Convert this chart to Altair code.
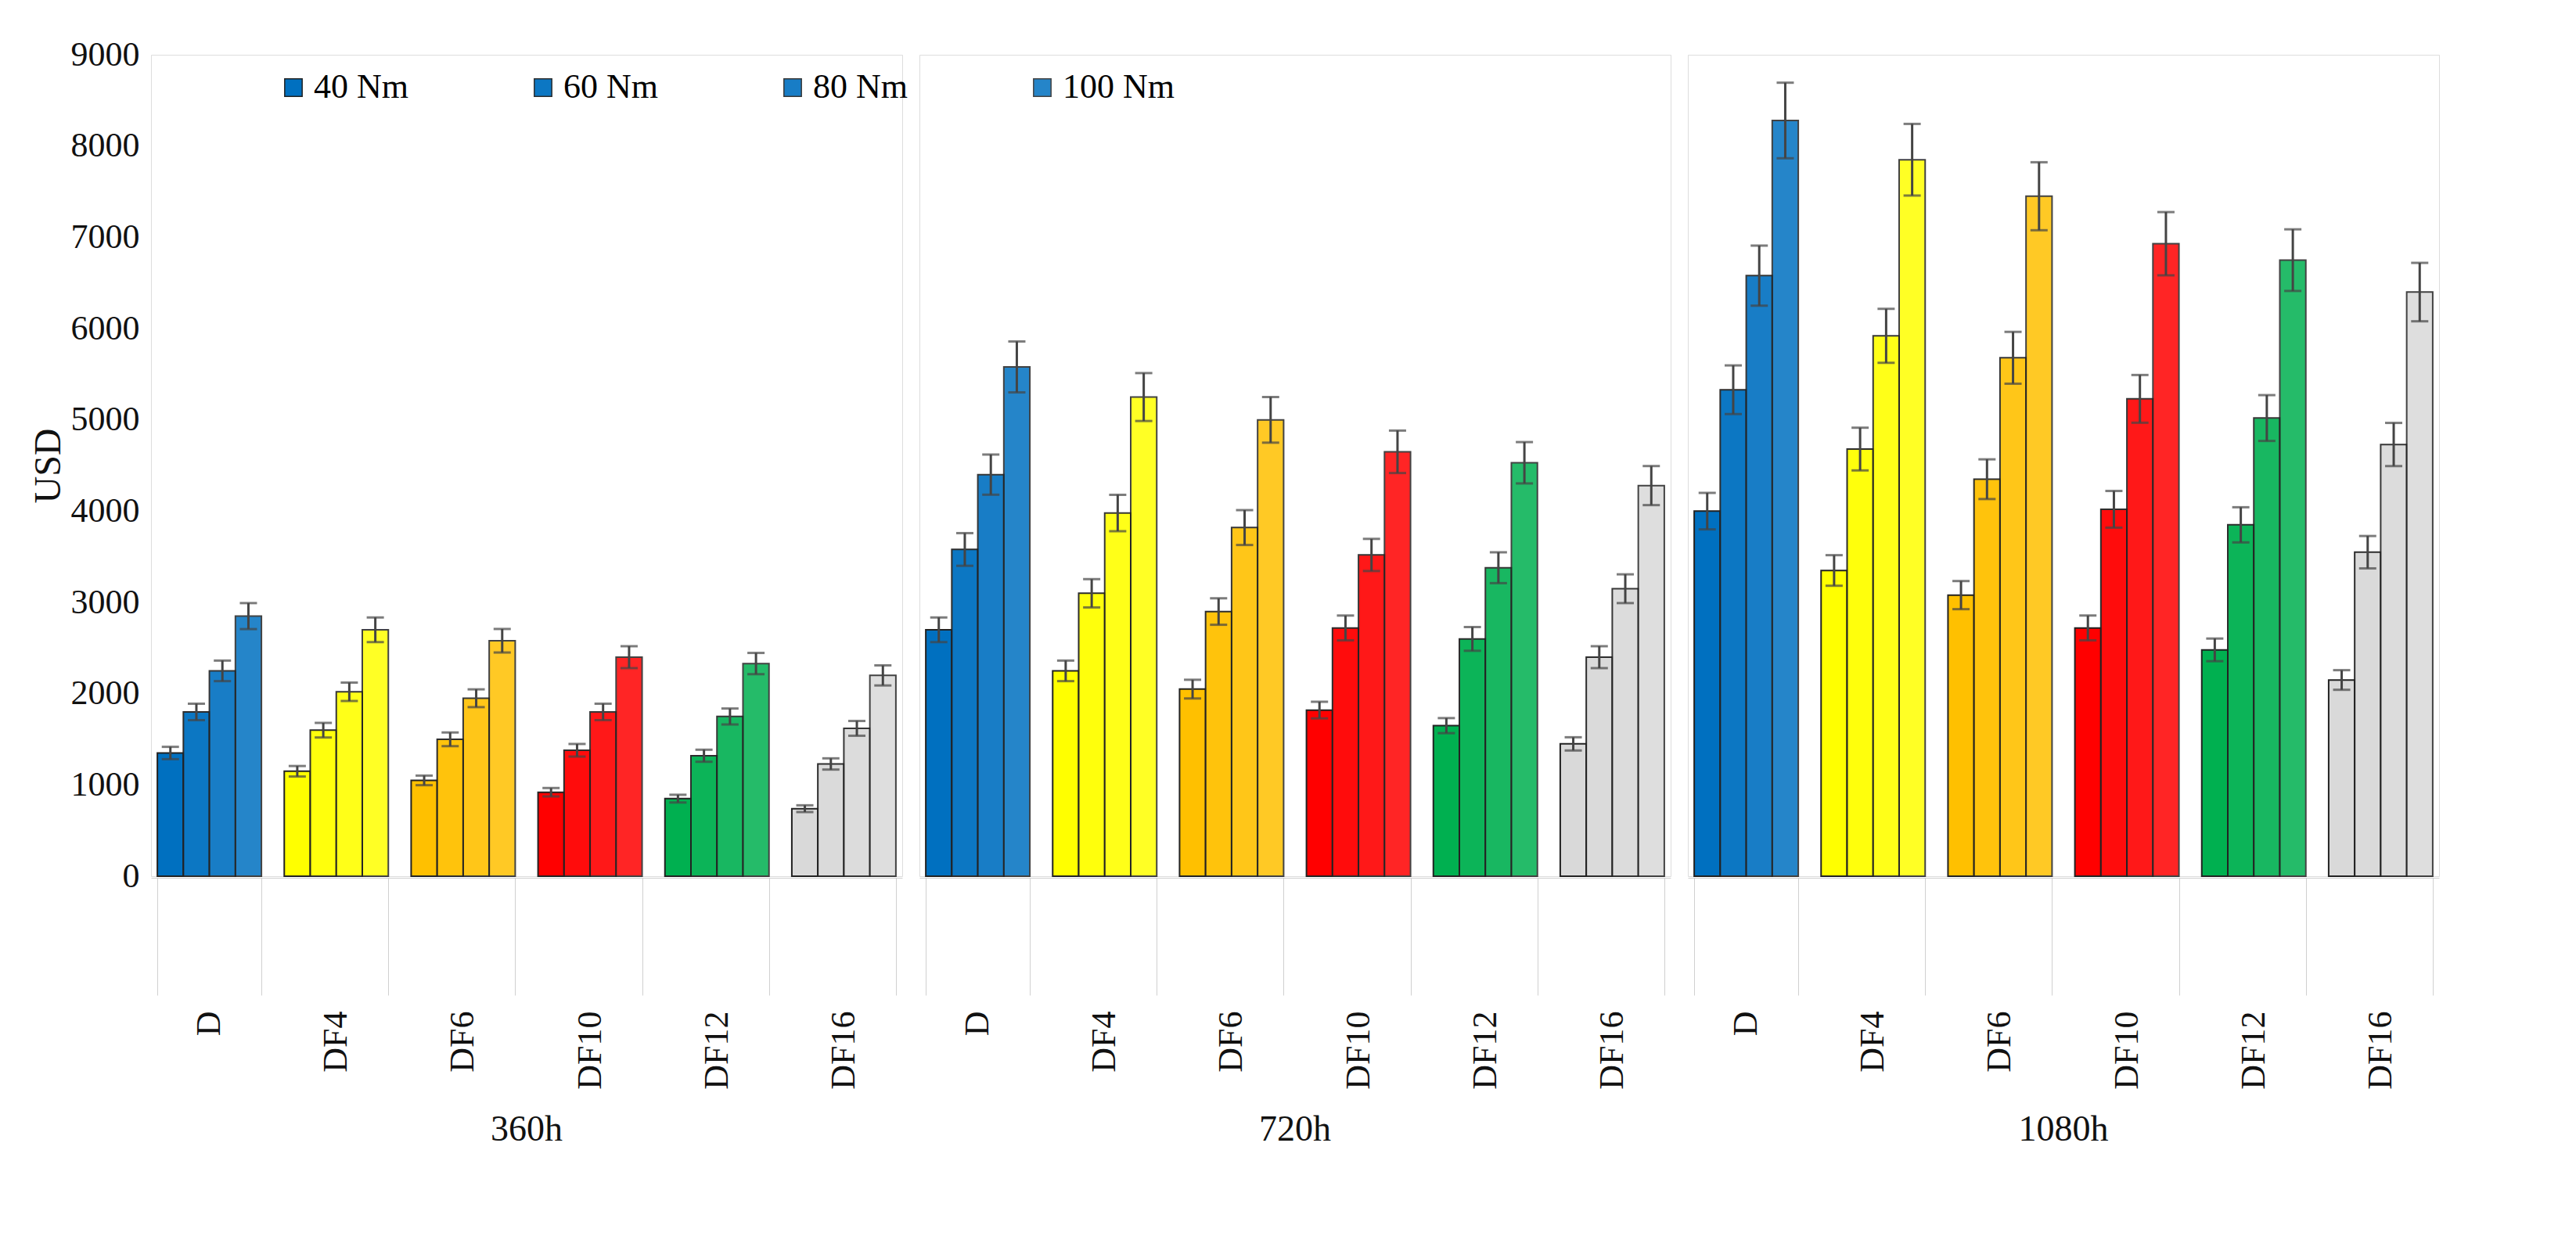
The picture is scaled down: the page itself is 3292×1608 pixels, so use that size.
import altair as alt
import pandas as pd

periods = ["360h", "720h", "1080h"]
groups = ["D", "DF4", "DF6", "DF10", "DF12", "DF16"]
torques = ["40 Nm", "60 Nm", "80 Nm", "100 Nm"]
colors = ["#0070C0", "#FFFF00", "#FFC000", "#FF0000", "#00B050", "#D9D9D9"]

v360 = [[1350, 1800, 2250, 2850], [1150, 1600, 2020, 2700], [1050, 1500, 1950, 2580],
        [920, 1380, 1800, 2400], [850, 1320, 1750, 2330], [740, 1230, 1620, 2200]]
v720 = [[2700, 3580, 4400, 5580], [2250, 3100, 3980, 5250], [2050, 2900, 3820, 5000],
        [1820, 2720, 3520, 4650], [1650, 2600, 3380, 4530], [1450, 2400, 3150, 4280]]
v1080 = [[4000, 5330, 6580, 8280], [3350, 4680, 5920, 7850], [3080, 4350, 5680, 7450],
         [2720, 4020, 5230, 6930], [2480, 3850, 5020, 6750], [2150, 3550, 4730, 6400]]
err_frac = 0.05

rows = []
for p, vals in zip(periods, [v360, v720, v1080]):
    for g, gv in zip(groups, vals):
        for t, v in zip(torques, gv):
            e = v * err_frac
            rows.append(dict(period=p, group=g, torque=t, usd=v, lo=v - e, hi=v + e))
df = pd.DataFrame(rows)

font = "Liberation Serif"
y = alt.Y("usd:Q", title="USD", scale=alt.Scale(domain=[0, 9000]),
          axis=alt.Axis(values=list(range(0, 9001, 1000)), format="d", grid=False, domain=False, ticks=False,
                        labelFont=font, titleFont=font, labelColor="#111", titleColor="#111",
                        labelFontSize=44, titleFontSize=48, titleFontWeight="normal", labelPadding=14))
x = alt.X("group:N", sort=groups, title=None,
          scale=alt.Scale(paddingInner=0.18, paddingOuter=0.05),
          axis=alt.Axis(labelAngle=-90, labelFontSize=44, labelFont=font, labelColor="#111", labelPadding=20,
                        domainColor="#d0d0d0", grid=False,
                        ticks=True, tickSize=150, tickColor="#d0d0d0", tickBand="extent"))

bars = alt.Chart().mark_bar(stroke="#222222", strokeWidth=2).encode(
    x=x, xOffset=alt.XOffset("torque:N", sort=torques), y=y,
    color=alt.Color("group:N", sort=groups, scale=alt.Scale(domain=groups, range=colors), legend=None),
    opacity=alt.Opacity("torque:N", sort=torques, scale=alt.Scale(domain=torques, range=[1, 0.85, 0.7, 0.55]),
                        legend=alt.Legend(title=None, orient="none", legendX=160, legendY=20, direction="horizontal",
                                          labelFontSize=44, labelFont=font, symbolType="square", symbolSize=500,
                                          symbolFillColor="#0070C0", symbolStrokeColor="#222", columnPadding=150)))
err = alt.Chart().mark_errorbar(ticks=alt.MarkConfig(size=22, color="#444"), color="#444", thickness=3).encode(
    x=x, xOffset=alt.XOffset("torque:N", sort=torques), y=alt.Y("lo:Q", title="USD"), y2="hi:Q")

chart = alt.layer(bars, err, data=df).properties(width=960, height=1050).facet(
    column=alt.Column("period:N", sort=periods, title=None,
                      header=alt.Header(labelOrient="bottom", labelFontSize=46, labelFont=font, labelColor="#111",
                                        labelPadding=30))
).configure_facet(spacing=0).configure_view(stroke=None).configure(
    padding={"left": 30, "top": 40, "right": 40, "bottom": 30})

chart.save("out.html", embed_options={"renderer": "svg", "actions": False})
